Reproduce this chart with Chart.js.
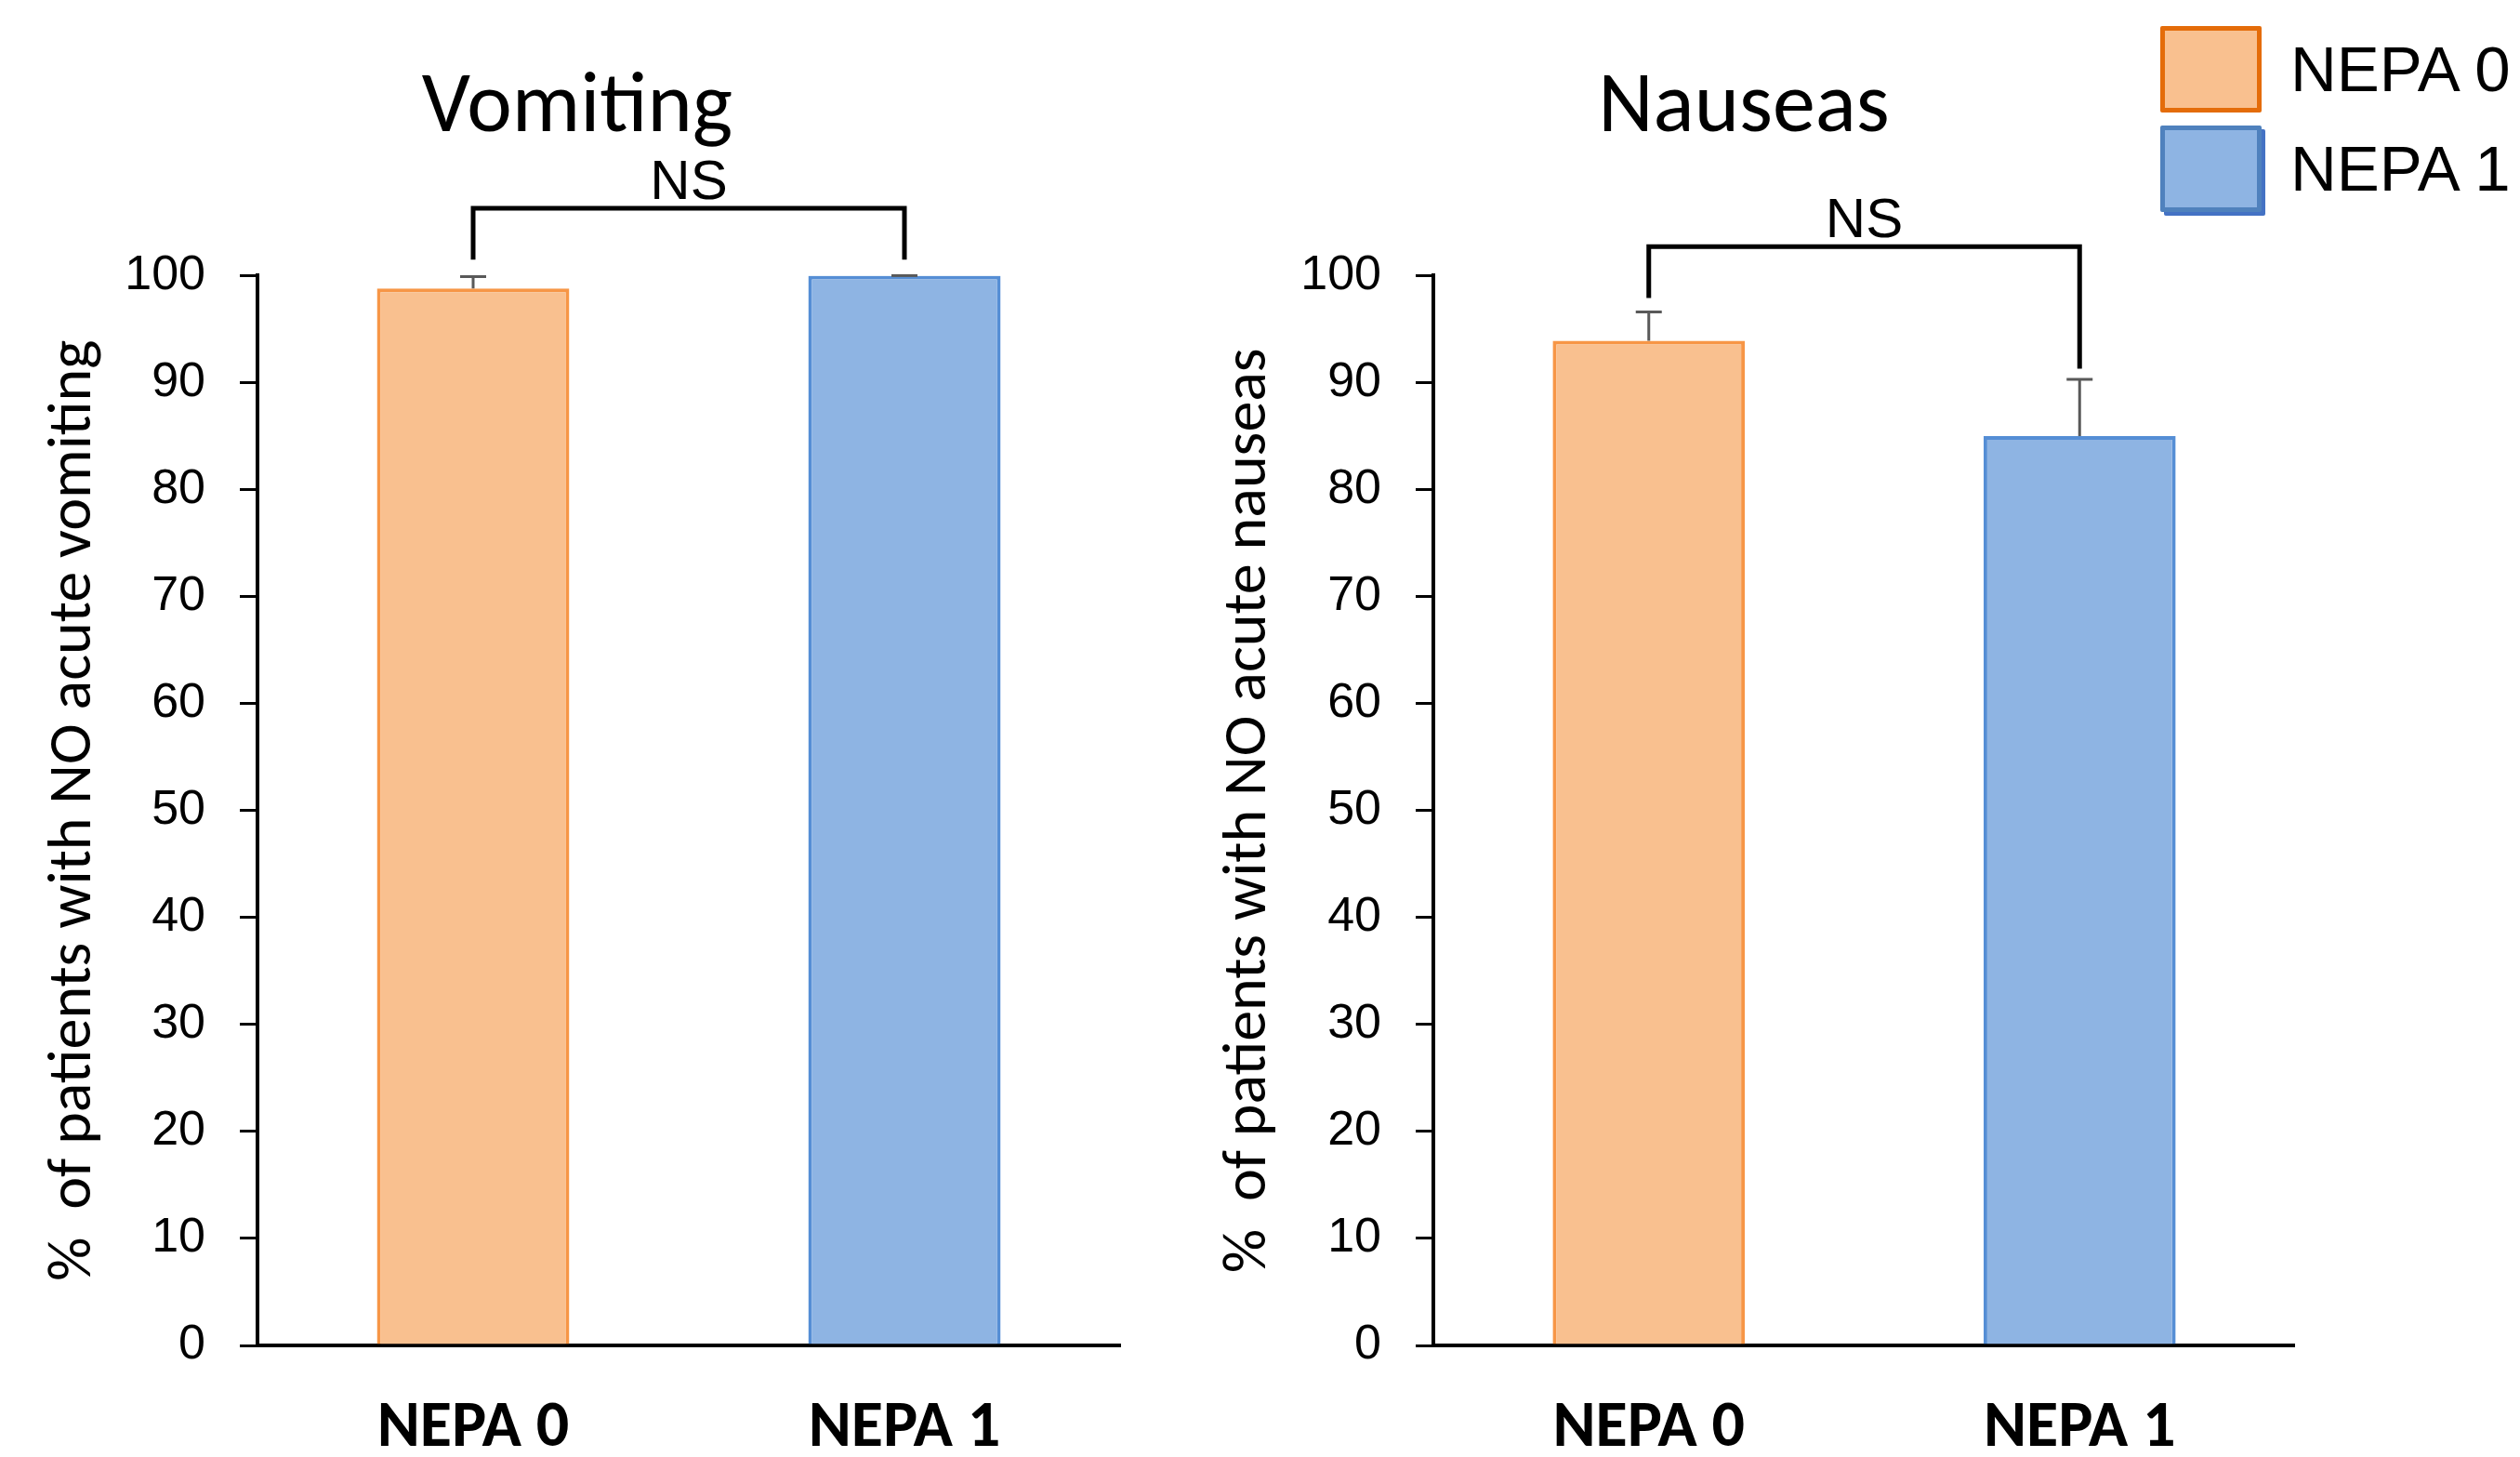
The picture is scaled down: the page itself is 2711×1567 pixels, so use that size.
<!DOCTYPE html>
<html>
<head>
<meta charset="utf-8">
<title>NEPA – Vomiting / Nauseas</title>
<script src="https://cdn.jsdelivr.net/npm/chart.js@4.4.1/dist/chart.umd.min.js"></script>
<style>
	html, body { margin: 0; padding: 0; background: #fff; }
	body { width: 2711px; height: 1567px; position: relative; overflow: hidden; }
	canvas { position: absolute; top: 0; }
	#vomitingChart { left: 0; }
	#nauseaChart { left: 1283px; }
	.legend-item { position: absolute; left: 2324px; height: 93px; }
	.legend-box { position: absolute; left: 0; top: 0; width: 99px; height: 83px; border: 5px solid; border-radius: 2px; }
	.legend-label { position: absolute; left: 140px; top: 0; line-height: 93px; white-space: nowrap;
		font-family: 'Liberation Sans', Arial, sans-serif; font-size: 69px; color: #000; }
</style>
</head>
<body>
<canvas id="vomitingChart" width="1210" height="1567"></canvas>
<canvas id="nauseaChart" width="1186" height="1567"></canvas>

<div class="legend-item" style="top:28px">
	<div class="legend-box" style="background:#F9C08F;border-color:#E46C0A"></div>
	<div class="legend-label">NEPA 0</div>
</div>
<div class="legend-item" style="top:135px">
	<div class="legend-box" style="background:#8EB4E3;border-color:#4F81BD;box-shadow:4px 4px 0 #4472C4"></div>
	<div class="legend-label">NEPA 1</div>
</div>

<script>
// data
const groups = ['NEPA 0', 'NEPA 1'];
const vomitingValues = [98.8, 100];
const vomitingErrors = [1.1, 0];
const nauseaValues = [93.9, 85.0];
const nauseaErrors = [2.7, 5.3];
// significance brackets (y values in %)
const vomitingBracketTop = 106.3;
const vomitingBracketLegs = [101.5, 101.5];
const nauseaBracketTop = 102.7;
const nauseaBracketLegs = [97.9, 91.3];
const bracketLabel = 'NS';
const yTickValues = [0, 10, 20, 30, 40, 50, 60, 70, 80, 90, 100];

const fillColors = ['#F9C08F', '#8EB4E3'];
const edgeColors = ['#F79646', '#558ED5'];

// error bars + NS bracket
const annotations = {
	id: 'annotations',
	afterDatasetsDraw(chart, args, opts) {
		const { ctx } = chart;
		const y = chart.scales.y;
		const bars = chart.getDatasetMeta(0).data;
		ctx.save();

		ctx.strokeStyle = '#595959';
		ctx.lineWidth = 3;
		bars.forEach((bar, i) => {
			const top = y.getPixelForValue(opts.values[i] + opts.errors[i]);
			ctx.beginPath();
			ctx.moveTo(bar.x, bar.y);
			ctx.lineTo(bar.x, top);
			ctx.moveTo(bar.x - 14, top);
			ctx.lineTo(bar.x + 14, top);
			ctx.stroke();
		});

		const topY = y.getPixelForValue(opts.bracketTop);
		ctx.strokeStyle = '#000';
		ctx.lineWidth = 5;
		ctx.lineJoin = 'miter';
		ctx.beginPath();
		ctx.moveTo(bars[0].x, y.getPixelForValue(opts.legs[0]));
		ctx.lineTo(bars[0].x, topY);
		ctx.lineTo(bars[1].x, topY);
		ctx.lineTo(bars[1].x, y.getPixelForValue(opts.legs[1]));
		ctx.stroke();

		ctx.fillStyle = '#000';
		ctx.font = "60px 'Liberation Sans', Arial, sans-serif";
		ctx.textAlign = 'center';
		ctx.textBaseline = 'alphabetic';
		ctx.fillText(opts.label, (bars[0].x + bars[1].x) / 2, topY - 10);

		ctx.restore();
	}
};

function createPanel(canvasId, title, values, errors, bracketTop, legs, axisTitle, yWidth, titleOffset, pad) {
	const ctx = document.getElementById(canvasId).getContext('2d');
	return new Chart(ctx, {
		type: 'bar',
		data: {
			labels: groups,
			datasets: [{
				data: values,
				backgroundColor: fillColors,
				borderColor: edgeColors,
				borderWidth: 4,
				borderSkipped: 'bottom',
				categoryPercentage: 1,
				barPercentage: 0.446
			}]
		},
		options: {
			responsive: false,
			animation: false,
			events: [],
			layout: { padding: { left: pad[0], top: 0, bottom: 0, right: pad[1] } },
			plugins: {
				legend: { display: false },
				tooltip: { enabled: false },
				title: {
					display: true,
					text: title,
					color: '#000',
					font: { family: "Carlito, Lato, sans-serif", size: 92, weight: 'normal', lineHeight: 1.2 },
					padding: { top: 63, bottom: 123 }
				},
				annotations: { values, errors, bracketTop, legs, label: bracketLabel }
			},
			scales: {
				x: {
					grid: { display: false, drawTicks: false },
					border: { display: true, color: '#000', width: 4 },
					ticks: {
						color: '#000',
						padding: 48,
						font: { family: "Carlito, Lato, sans-serif", size: 70, weight: 'bold' }
					},
					afterFit: s => { s.height = 120; }
				},
				y: {
					min: 0,
					max: 100,
					afterBuildTicks: s => { s.ticks = yTickValues.map(v => ({ value: v })); },
					grid: { display: true, drawOnChartArea: false, drawTicks: true, tickLength: 19, color: '#000', lineWidth: 3 },
					border: { display: true, color: '#000', width: 4 },
					ticks: {
						color: '#000',
						padding: 37,
						font: { family: "'Liberation Sans', Arial, sans-serif", size: 52 }
					},
					title: {
						display: true,
						text: axisTitle,
						color: '#000',
						font: { family: "Carlito, Lato, sans-serif", size: 66, lineHeight: 1.2 },
						padding: { top: titleOffset, bottom: 0 }
					},
					afterFit: s => { s.width = yWidth; }
				}
			}
		},
		plugins: [annotations]
	});
}

createPanel('vomitingChart', 'Vomiting', vomitingValues, vomitingErrors,
	vomitingBracketTop, vomitingBracketLegs, '%  of patients with NO acute vomiting', 240, 4, [37, 5]);
createPanel('nauseaChart', 'Nauseas', nauseaValues, nauseaErrors,
	nauseaBracketTop, nauseaBracketLegs, '%  of patients with NO acute nauseas', 259, 22, [0, 0]);
</script>
</body>
</html>
